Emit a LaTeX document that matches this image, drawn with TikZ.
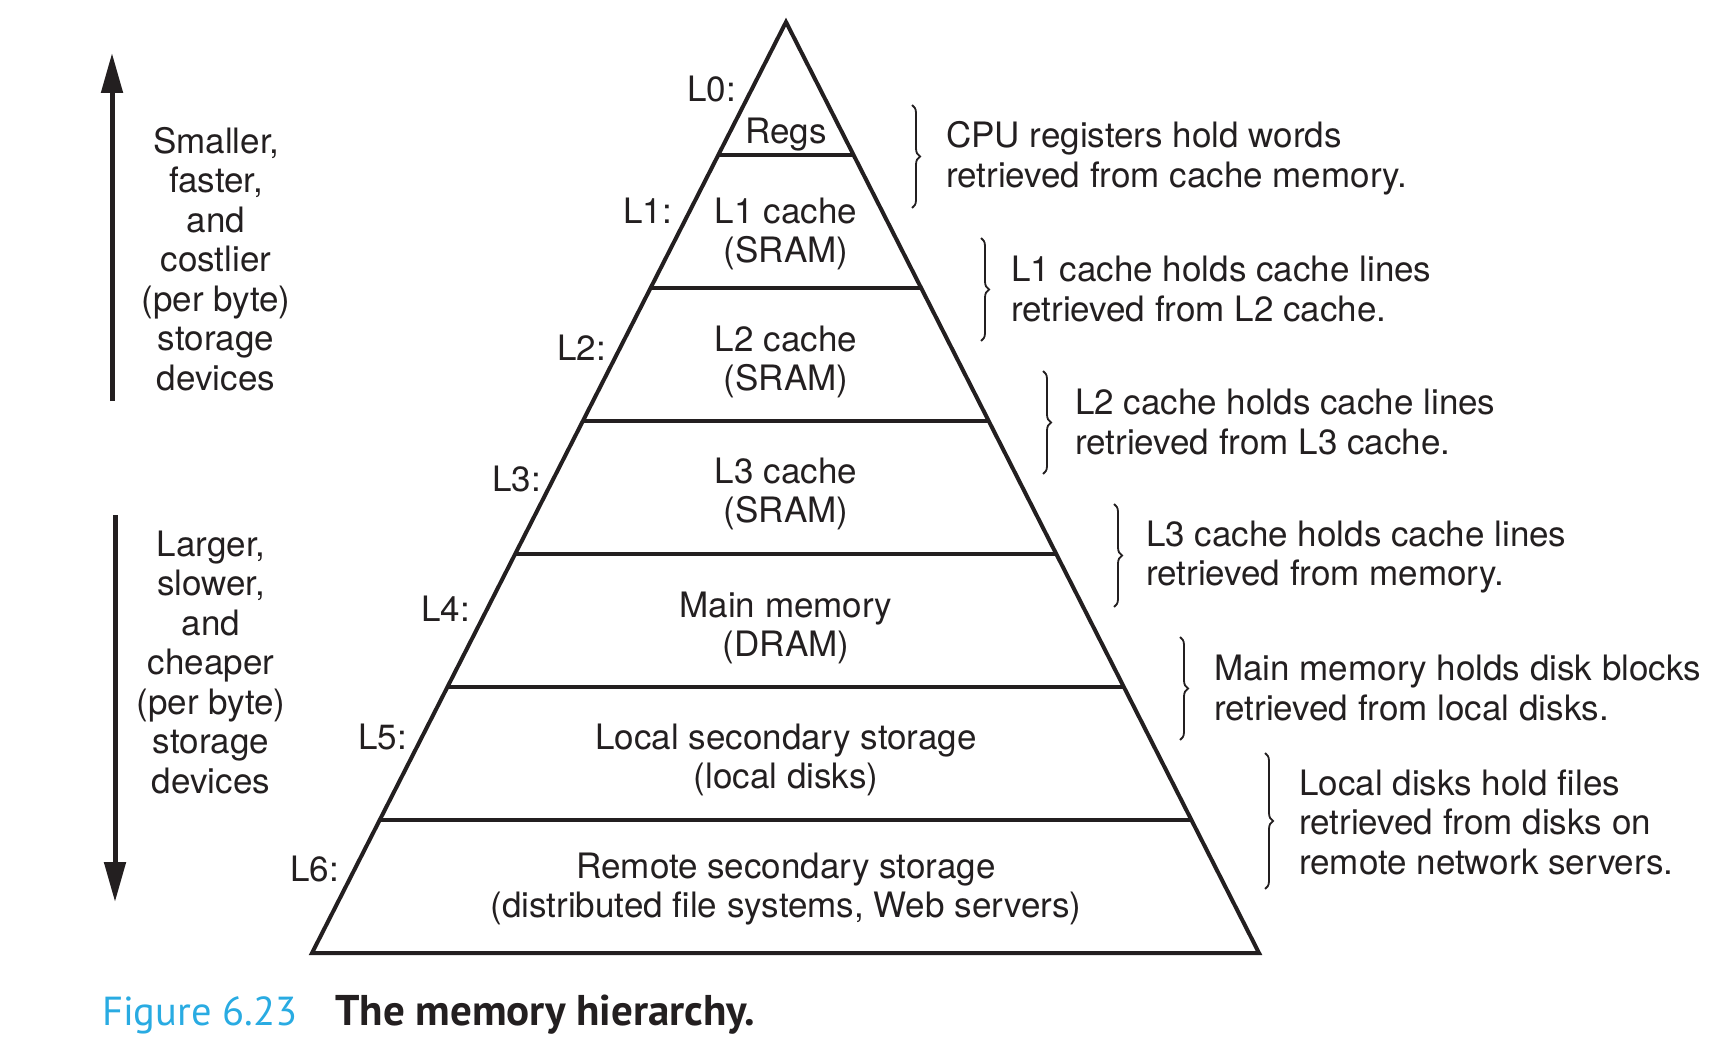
\documentclass[tikz,border=0pt]{standalone}
\usepackage{fontspec}
\setmainfont{TeX Gyre Heros}
\newfontfamily\capfont{PT Sans}
\usetikzlibrary{arrows.meta,decorations.pathreplacing,calc}
\definecolor{ink}{RGB}{35,31,32}
\definecolor{figcyan}{RGB}{41,171,226}
\begin{document}
\begin{tikzpicture}[x=1pt,y=-1pt,
  txt/.style={font=\fontsize{35}{39.5}\selectfont, text=ink, inner sep=0pt, align=center},
  sidetxt/.style={txt, align=left, anchor=west},
  lvl/.style={txt, anchor=east},
  pyrline/.style={line width=4pt, draw=ink},
  brc/.style={decorate, decoration={brace, amplitude=8pt, aspect=0.5}, line width=1.8pt, draw=ink},
  bigarrow/.style={line width=5pt, draw=ink, -{Triangle[length=40pt,width=21pt]}}]
\useasboundingbox (0,0) rectangle (1734,1064);
% pyramid
\coordinate (A) at (786,22);
\coordinate (BL) at (312,953);
\coordinate (BR) at (1259,953);
\draw[pyrline, line join=miter] (A) -- (BR) -- (BL) -- cycle;
\foreach \i in {1,...,6} {
  \coordinate (sl\i) at ($(A)!\i/7!(BL)$);
  \coordinate (sr\i) at ($(A)!\i/7!(BR)$);
  \draw[pyrline] (sl\i) -- (sr\i);
}
% level labels
\node[lvl] (L0) at (736,89) {L0:};
\node[lvl] (L1) at (672,211) {L1:};
\node[lvl] (L2) at (606,348) {L2:};
\node[lvl] (L3) at (541,479) {L3:};
\node[lvl] (L4) at (470,609) {L4:};
\node[lvl] (L5) at (407,737) {L5:};
\node[lvl] (L6) at (339,869) {L6:};
% pyramid texts
\node[txt] (t0) at (786,135) {Regs};
\node[txt] (t1) at (786,234) {L1 cache\\(SRAM)};
\node[txt] (t2) at (786,362) {L2 cache\\(SRAM)};
\node[txt] (t3) at (786,494) {L3 cache\\(SRAM)};
\node[txt] (t4) at (786,628) {Main memory\\(DRAM)};
\node[txt] (t5) at (786,760) {Local secondary storage\\(local disks)};
\node[txt] (t6) at (786,889) {Remote secondary storage\\(distributed file systems, Web servers)};
% braces
\coordinate (b1t) at (912,105); \coordinate (b1b) at (912,208);
\coordinate (b2t) at (981,238); \coordinate (b2b) at (981,341);
\coordinate (b3t) at (1043,371); \coordinate (b3b) at (1043,474);
\coordinate (b4t) at (1114,504); \coordinate (b4b) at (1114,607);
\coordinate (b5t) at (1180,637); \coordinate (b5b) at (1180,740);
\coordinate (b6t) at (1265,753); \coordinate (b6b) at (1265,889);
\foreach \j in {1,...,6} { \draw[brc] (b\j t) -- (b\j b); }
% right texts
\node[sidetxt] (r1) at (946,158) {CPU registers hold words\\retrieved from cache memory.};
\node[sidetxt] (r2) at (1011,289) {L1 cache holds cache lines\\retrieved from L2 cache.};
\node[sidetxt] (r3) at (1075,422) {L2 cache holds cache lines\\retrieved from L3 cache.};
\node[sidetxt] (r4) at (1146,557) {L3 cache holds cache lines\\retrieved from memory.};
\node[sidetxt] (r5) at (1214,688) {Main memory holds disk blocks\\retrieved from local disks.};
\node[sidetxt] (r6) at (1299,822) {Local disks hold files\\retrieved from disks on\\remote network servers.};
% left arrows and texts
\coordinate (ua0) at (112,401); \coordinate (ua1) at (112,53);
\coordinate (da0) at (115,515); \coordinate (da1) at (115,902);
\draw[bigarrow] (ua0) -- (ua1);
\draw[bigarrow] (da0) -- (da1);
\node[txt] (lt1) at (216,259) {Smaller,\\faster,\\and\\costlier\\(per byte)\\storage\\devices};
\node[txt] (lt2) at (211,662) {Larger,\\slower,\\and\\cheaper\\(per byte)\\storage\\devices};
% caption
\node[anchor=base west, inner sep=0pt, font=\capfont\fontsize{40.5}{44}\selectfont, text=figcyan] (fig) at (102,1025) {Figure 6.23};
\node[anchor=base west, inner sep=0pt, font=\capfont\bfseries\fontsize{43}{46}\selectfont, text=ink] (cap) at (335,1025) {The memory hierarchy.};
\end{tikzpicture}
\end{document}
